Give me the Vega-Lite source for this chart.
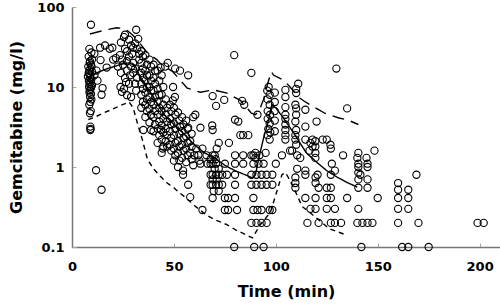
{
"$schema": "https://vega.github.io/schema/vega-lite/v6.json",
"width": 428, "height": 240,
"autosize": {"type": "none"},
"padding": {"left": 72, "top": 7, "right": 0, "bottom": 57},
"background": "white",
"config": {"view": {"stroke": null}, "font": "DejaVu Sans"},
"datasets": {
"pts": [
{"t":9.3,"c":60},{"t":8.5,"c":30},{"t":9.5,"c":27},{"t":8.2,"c":24},{"t":9.8,"c":22},{"t":8.8,"c":21},{"t":8.7,"c":20},{"t":9.3,"c":19},{"t":8,"c":18},{"t":9.6,"c":18},{"t":9,"c":17},{"t":8.5,"c":16},{"t":9.8,"c":15.5},{"t":8.2,"c":15},{"t":8.4,"c":14.5},{"t":9,"c":14},{"t":7.8,"c":13.5},{"t":8.8,"c":13},{"t":9.5,"c":12.5},{"t":8.3,"c":12},{"t":9.2,"c":11.5},{"t":8.6,"c":11},{"t":9.8,"c":10.5},{"t":8.4,"c":10},{"t":9.4,"c":10},{"t":9.1,"c":9.5},{"t":8.7,"c":9},{"t":8.6,"c":8.5},{"t":9.3,"c":8.2},{"t":8.9,"c":7.5},{"t":9.5,"c":7},{"t":9,"c":6.5},{"t":8.5,"c":6},{"t":9.2,"c":5},{"t":8.8,"c":4.7},{"t":9,"c":3.2},{"t":9.1,"c":3.0},{"t":9,"c":2.9},
{"t":11.8,"c":0.91},{"t":14.5,"c":0.52},
{"t":13.8,"c":31},{"t":16.2,"c":33},{"t":11,"c":26},{"t":14,"c":21.7},{"t":12,"c":16},{"t":15,"c":9.7},{"t":11,"c":14},{"t":12.5,"c":12},{"t":18.5,"c":30},{"t":19.8,"c":31},{"t":20.2,"c":22},{"t":17,"c":17.5},{"t":21.5,"c":23},{"t":14.5,"c":8},
{"t":24,"c":36},{"t":25.5,"c":42},{"t":26,"c":45},{"t":28,"c":39},{"t":29,"c":33},{"t":30,"c":31},{"t":31.5,"c":52},{"t":32.5,"c":40},{"t":26,"c":30},{"t":27,"c":28},{"t":23.5,"c":25},{"t":24.5,"c":22},{"t":28,"c":24},{"t":30,"c":20},{"t":25,"c":19},{"t":29,"c":18},{"t":31,"c":17},{"t":27,"c":16},{"t":24,"c":15},{"t":30,"c":15},{"t":28.5,"c":14},{"t":26,"c":13},{"t":32,"c":13},{"t":23.8,"c":10},{"t":24.5,"c":8.7},{"t":27,"c":7.9},{"t":29,"c":7.5},{"t":25.5,"c":9.5},{"t":31,"c":11},{"t":31.5,"c":9},{"t":33,"c":22},{"t":33,"c":26},{"t":22.5,"c":18},{"t":27,"c":21},{"t":29.5,"c":26},{"t":31,"c":35},{"t":32,"c":30},{"t":28,"c":11},{"t":26.5,"c":11.5},
{"t":34,"c":28},{"t":34.8,"c":24},{"t":34,"c":20},{"t":34.8,"c":17},{"t":34,"c":15},{"t":34.8,"c":13},{"t":34,"c":11},{"t":34.8,"c":9.5},{"t":34,"c":8},{"t":34.8,"c":6.5},{"t":34,"c":5.5},
{"t":36,"c":25},{"t":36.8,"c":19},{"t":36,"c":16},{"t":36.8,"c":14},{"t":36,"c":12},{"t":36.8,"c":10},{"t":36,"c":8.5},{"t":36.8,"c":7},{"t":36,"c":6},{"t":36.8,"c":5},{"t":36,"c":4.2},{"t":35,"c":2.9},
{"t":38,"c":22},{"t":38.8,"c":18},{"t":38,"c":14},{"t":38.8,"c":12},{"t":38,"c":10},{"t":38.8,"c":9},{"t":38,"c":7.5},{"t":38.8,"c":6.5},{"t":38,"c":5.3},{"t":38.8,"c":4.5},{"t":38,"c":3.6},{"t":38.8,"c":2.9},
{"t":40,"c":19},{"t":40.8,"c":16},{"t":40,"c":13},{"t":40.8,"c":11},{"t":40,"c":9},{"t":40.8,"c":7.5},{"t":40,"c":6},{"t":40.8,"c":5},{"t":40,"c":4.2},{"t":40.8,"c":3.4},{"t":40,"c":2.8},
{"t":42,"c":16},{"t":42.8,"c":12},{"t":42,"c":9.5},{"t":42.8,"c":8},{"t":42,"c":6.5},{"t":42.8,"c":5.5},{"t":42,"c":4.5},{"t":42.8,"c":3.7},{"t":42,"c":3},{"t":42.8,"c":2.5},{"t":42,"c":2},
{"t":44,"c":14},{"t":44.8,"c":10},{"t":44,"c":8},{"t":44.8,"c":6},{"t":44,"c":5},{"t":44.8,"c":4},{"t":44,"c":3.3},{"t":44.8,"c":2.7},{"t":44,"c":2.2},{"t":44.8,"c":1.8},{"t":44,"c":1.5},{"t":43.7,"c":2.9},{"t":44.5,"c":1.7},
{"t":45.7,"c":18},{"t":50.6,"c":17},{"t":43.5,"c":17.5},{"t":57,"c":14},{"t":49.6,"c":10},{"t":50.5,"c":7.5},{"t":49.5,"c":6.8},{"t":47,"c":20},{"t":53,"c":16},
{"t":46,"c":7},{"t":46.7,"c":5.5},{"t":46,"c":4.5},{"t":46.7,"c":3.7},{"t":46,"c":3},{"t":46.7,"c":2.5},{"t":46,"c":2.1},{"t":46.7,"c":1.8},
{"t":48,"c":6},{"t":48.7,"c":5},{"t":48,"c":4},{"t":48.7,"c":3.4},{"t":48,"c":2.8},{"t":48.7,"c":2.3},{"t":48,"c":1.9},{"t":48.7,"c":1.6},
{"t":50,"c":5.5},{"t":50.7,"c":4.5},{"t":50,"c":3.5},{"t":50.7,"c":3},{"t":50,"c":2.5},{"t":50.7,"c":2},{"t":50,"c":1.7},{"t":50.7,"c":1.4},{"t":50,"c":1.2},
{"t":52,"c":4.8},{"t":52.7,"c":3.8},{"t":53,"c":3.2},{"t":52.7,"c":2.6},{"t":52,"c":2.1},{"t":52.7,"c":1.8},{"t":52,"c":1.5},{"t":52.7,"c":1.2},{"t":52,"c":1.0},
{"t":54,"c":4.2},{"t":54.7,"c":3.4},{"t":54,"c":2.8},{"t":54.7,"c":2.3},{"t":54,"c":1.9},{"t":54.7,"c":1.6},{"t":54,"c":1.3},{"t":54.5,"c":0.9},{"t":54.5,"c":0.8},
{"t":56,"c":3.8},{"t":56.7,"c":3},{"t":56,"c":2.4},{"t":56.7,"c":2},{"t":56,"c":1.7},{"t":56.7,"c":1.4},{"t":56,"c":1.15},{"t":57,"c":0.6},
{"t":59.5,"c":4.2},{"t":57,"c":3.1},{"t":58.7,"c":2.6},{"t":58,"c":2.1},{"t":58.7,"c":1.8},{"t":58,"c":1.5},{"t":58.7,"c":1.25},{"t":59.5,"c":1.05},{"t":58,"c":0.42},
{"t":60.5,"c":4.5},{"t":63,"c":3.1},{"t":60,"c":1.4},{"t":61,"c":1.7},{"t":63,"c":1.1},{"t":62,"c":1.4},{"t":64,"c":1.7},{"t":62.5,"c":1.2},{"t":64,"c":0.29},{"t":66,"c":1.4},{"t":66.5,"c":1.1},
{"t":69,"c":2.9},{"t":84,"c":2.5},{"t":86.5,"c":2.5},{"t":82.6,"c":2.5},{"t":77,"c":2.0},{"t":72,"c":2.0},{"t":71,"c":1.7},
{"t":69,"c":1.4},{"t":70,"c":1.4},{"t":80,"c":1.4},{"t":84,"c":1.4},{"t":88,"c":1.4},{"t":89,"c":1.4},{"t":92,"c":1.4},
{"t":68,"c":1.1},{"t":69,"c":1.1},{"t":70.7,"c":1.1},{"t":75,"c":1.1},{"t":80,"c":1.1},{"t":84,"c":1.1},{"t":89,"c":1.1},{"t":91.5,"c":1.1},{"t":94,"c":1.1},
{"t":68,"c":0.8},{"t":69,"c":0.8},{"t":70.7,"c":0.8},{"t":72,"c":0.8},{"t":73.7,"c":0.8},{"t":76,"c":0.8},{"t":80,"c":0.8},{"t":88,"c":0.8},{"t":90.5,"c":0.8},{"t":93,"c":0.8},{"t":95.5,"c":0.8},{"t":98.3,"c":0.8},
{"t":68,"c":0.6},{"t":69,"c":0.6},{"t":70.7,"c":0.6},{"t":72,"c":0.6},{"t":73.7,"c":0.6},{"t":80,"c":0.6},{"t":88,"c":0.6},{"t":90.5,"c":0.6},{"t":93,"c":0.6},{"t":95.5,"c":0.6},{"t":98.3,"c":0.6},
{"t":69,"c":0.41},{"t":75,"c":0.41},{"t":76.6,"c":0.41},{"t":80,"c":0.41},{"t":89,"c":0.41},
{"t":75,"c":0.29},{"t":76.6,"c":0.29},{"t":81,"c":0.29},{"t":89,"c":0.29},{"t":91,"c":0.29},{"t":93,"c":0.29},{"t":97,"c":0.29},{"t":98.3,"c":0.29},
{"t":88,"c":0.2},{"t":90.5,"c":0.2},{"t":93,"c":0.2},{"t":95.5,"c":0.2},
{"t":79.6,"c":0.1},{"t":89.4,"c":0.1},{"t":94,"c":0.1},
{"t":69,"c":0.7},{"t":71,"c":0.7},{"t":70,"c":0.95},{"t":72,"c":0.95},{"t":68,"c":1.25},{"t":70.5,"c":1.25},{"t":69.5,"c":0.5},{"t":72,"c":0.5},
{"t":69,"c":7.7},{"t":70.7,"c":5.8},{"t":74.7,"c":6.9},{"t":83.5,"c":6.7},{"t":84.5,"c":6},{"t":91,"c":4.5},{"t":80,"c":3.9},{"t":81.6,"c":3.7},{"t":79.6,"c":25},{"t":88,"c":15},{"t":68.8,"c":3.3},{"t":53,"c":3.2},
{"t":96.5,"c":10},{"t":95.8,"c":9},{"t":97,"c":8},{"t":96,"c":7},{"t":97,"c":6},{"t":96,"c":5},{"t":97.2,"c":4.5},{"t":96,"c":4},{"t":97,"c":3.5},{"t":96.3,"c":3},{"t":97.3,"c":2.7},{"t":96,"c":2.5},{"t":97,"c":2.2},
{"t":99.5,"c":8.5},{"t":99.5,"c":6.5},{"t":99.5,"c":5},{"t":99.5,"c":3.8},{"t":99.5,"c":2.8},
{"t":104.7,"c":9.2},{"t":104.7,"c":7.5},{"t":104.7,"c":5.6},{"t":104.7,"c":4.5},{"t":104.7,"c":4},{"t":104.7,"c":3.4},{"t":104.7,"c":2.9},{"t":104.7,"c":2.5},{"t":104.7,"c":2.2},
{"t":103,"c":1.4},{"t":95,"c":1.5},{"t":90,"c":1.5},{"t":90,"c":1.3},{"t":108,"c":1.6},{"t":100,"c":1.1},
{"t":111,"c":11},{"t":110,"c":9.5},{"t":110,"c":8.4},{"t":109.6,"c":6},{"t":110,"c":5.4},{"t":110,"c":4.5},{"t":109.6,"c":3.7},{"t":110,"c":2.9},{"t":109.6,"c":2.5},{"t":109.6,"c":2.2},{"t":110,"c":1.9},
{"t":129.7,"c":17},{"t":135,"c":5.4},{"t":114.5,"c":5.2},{"t":114.5,"c":3.2},{"t":120,"c":3.7},{"t":119.4,"c":2.1},{"t":119.4,"c":1.8},{"t":119.4,"c":1.5},{"t":119.4,"c":1.3},{"t":125,"c":2.2},{"t":127,"c":1.7},{"t":133,"c":1.4},{"t":140,"c":1.3},{"t":148.4,"c":1.6},{"t":114.5,"c":2.2},{"t":118,"c":2.2},{"t":117,"c":2.0},{"t":118,"c":1.8},{"t":116.5,"c":1.6},{"t":123,"c":2.2},{"t":126.8,"c":1.9},{"t":129,"c":0.9},{"t":107,"c":1.6},
{"t":140.5,"c":1.5},{"t":140.5,"c":1.1},{"t":140.5,"c":1.0},{"t":140.5,"c":0.85},{"t":140.5,"c":0.7},{"t":140.5,"c":0.55},{"t":140.5,"c":0.3},
{"t":145,"c":1.1},{"t":145,"c":1.0},{"t":145,"c":0.7},{"t":145,"c":0.55},
{"t":135,"c":0.41},{"t":150,"c":0.41},{"t":160,"c":0.63},{"t":160,"c":0.52},{"t":160,"c":0.41},{"t":160,"c":0.3},{"t":160,"c":0.2},{"t":165,"c":0.52},{"t":165,"c":0.41},{"t":165,"c":0.3},{"t":169,"c":0.8},{"t":170,"c":0.2},{"t":199,"c":0.2},{"t":202,"c":0.2},{"t":162,"c":0.1},{"t":165,"c":0.1},{"t":175,"c":0.1},{"t":142,"c":0.1},
{"t":115.5,"c":0.2},{"t":121,"c":0.2},{"t":127,"c":0.2},{"t":129,"c":0.2},{"t":132,"c":0.2},{"t":140,"c":0.2},{"t":142.5,"c":0.2},{"t":145,"c":0.2},{"t":147.4,"c":0.2},
{"t":117,"c":0.3},{"t":119.5,"c":0.3},{"t":125,"c":0.3},{"t":129,"c":0.3},
{"t":114.5,"c":0.41},{"t":119.5,"c":0.41},{"t":125,"c":0.41},{"t":127,"c":0.41},
{"t":109.6,"c":0.74},{"t":109.6,"c":0.63},{"t":109.6,"c":0.55},{"t":114.5,"c":0.9},{"t":114.5,"c":0.8},{"t":119.5,"c":0.74},{"t":119.5,"c":0.63},{"t":121,"c":0.55},{"t":125,"c":0.55},{"t":127,"c":0.55},{"t":110.5,"c":0.95},
{"t":120.5,"c":0.8},{"t":127,"c":0.8},{"t":141.5,"c":0.8},{"t":127.5,"c":1.1},{"t":144.5,"c":1.3},{"t":110.5,"c":1.4},{"t":112,"c":1.3}
],
"lines": [
{"s":"median","t":8,"c":13},{"s":"median","t":12,"c":15},{"s":"median","t":16,"c":16.5},{"s":"median","t":20,"c":17.8},{"s":"median","t":25,"c":19.5},{"s":"median","t":28,"c":20},{"s":"median","t":31,"c":18.5},{"s":"median","t":33,"c":14},{"s":"median","t":35,"c":11.5},{"s":"median","t":38,"c":9},{"s":"median","t":40,"c":7.5},{"s":"median","t":43,"c":5.5},{"s":"median","t":46,"c":4.3},{"s":"median","t":50,"c":3.4},{"s":"median","t":55.5,"c":2.5},{"s":"median","t":60,"c":1.9},{"s":"median","t":65,"c":1.5},{"s":"median","t":70,"c":1.3},{"s":"median","t":75,"c":1.05},{"s":"median","t":80,"c":0.9},{"s":"median","t":85,"c":0.8},{"s":"median","t":88.5,"c":0.73},{"s":"median","t":90,"c":0.8},{"s":"median","t":92,"c":1.4},{"s":"median","t":94,"c":2.3},{"s":"median","t":96,"c":3.5},{"s":"median","t":98,"c":6},{"s":"median","t":100,"c":5.5},{"s":"median","t":104,"c":4},{"s":"median","t":108.6,"c":2.7},{"s":"median","t":115,"c":1.5},{"s":"median","t":120,"c":1.15},{"s":"median","t":125,"c":0.9},{"s":"median","t":130,"c":0.75},{"s":"median","t":135,"c":0.64},{"s":"median","t":140,"c":0.56},
{"s":"upper","t":8.8,"c":46},{"s":"upper","t":13,"c":49},{"s":"upper","t":17,"c":52},{"s":"upper","t":22,"c":55},{"s":"upper","t":25,"c":54},{"s":"upper","t":27.5,"c":50},{"s":"upper","t":30,"c":44},{"s":"upper","t":33,"c":36},{"s":"upper","t":36.8,"c":27},{"s":"upper","t":41.6,"c":22},{"s":"upper","t":43,"c":20},{"s":"upper","t":49.6,"c":15.4},{"s":"upper","t":56.5,"c":9.7},{"s":"upper","t":63,"c":8.6},{"s":"upper","t":69.3,"c":9.2},{"s":"upper","t":76,"c":8.4},{"s":"upper","t":82.6,"c":6.8},{"s":"upper","t":85,"c":5.8},{"s":"upper","t":88,"c":4.7},{"s":"upper","t":90,"c":4.5},{"s":"upper","t":92,"c":5.2},{"s":"upper","t":94,"c":7},{"s":"upper","t":96,"c":11},{"s":"upper","t":97.8,"c":15.5},{"s":"upper","t":99,"c":14},{"s":"upper","t":103.7,"c":12.2},{"s":"upper","t":107,"c":10},{"s":"upper","t":111,"c":7.5},{"s":"upper","t":114.5,"c":6.5},{"s":"upper","t":121,"c":5.2},{"s":"upper","t":124,"c":4.7},{"s":"upper","t":131,"c":4.1},{"s":"upper","t":135,"c":3.9},{"s":"upper","t":140.5,"c":3.4},
{"s":"lower","t":8,"c":3.9},{"s":"lower","t":12,"c":4.3},{"s":"lower","t":16,"c":4.8},{"s":"lower","t":20,"c":5.3},{"s":"lower","t":24,"c":5.9},{"s":"lower","t":28,"c":6.5},{"s":"lower","t":30,"c":5.5},{"s":"lower","t":32,"c":3.6},{"s":"lower","t":34.5,"c":2.2},{"s":"lower","t":37,"c":1.25},{"s":"lower","t":40,"c":0.95},{"s":"lower","t":43,"c":0.78},{"s":"lower","t":46.7,"c":0.63},{"s":"lower","t":50,"c":0.55},{"s":"lower","t":53,"c":0.47},{"s":"lower","t":55.5,"c":0.42},{"s":"lower","t":60,"c":0.33},{"s":"lower","t":66,"c":0.25},{"s":"lower","t":70,"c":0.22},{"s":"lower","t":76,"c":0.19},{"s":"lower","t":81,"c":0.16},{"s":"lower","t":86,"c":0.14},{"s":"lower","t":88.5,"c":0.13},{"s":"lower","t":90,"c":0.15},{"s":"lower","t":92.4,"c":0.19},{"s":"lower","t":97.3,"c":0.27},{"s":"lower","t":100,"c":0.45},{"s":"lower","t":103,"c":0.8},{"s":"lower","t":104.7,"c":0.85},{"s":"lower","t":106,"c":0.75},{"s":"lower","t":108.6,"c":0.56},{"s":"lower","t":113,"c":0.32},{"s":"lower","t":121,"c":0.22},{"s":"lower","t":126,"c":0.17},{"s":"lower","t":135,"c":0.14}
]
},
"layer": [
{
"data": {"name": "pts"},
"mark": {"type": "point", "shape": "circle", "filled": false, "color": "black", "size": 52, "strokeWidth": 1.1, "opacity": 1},
"encoding": {
"x": {"field": "t", "type": "quantitative", "scale": {"domain": [0, 210], "nice": false},
"axis": {"values": [0, 50, 100, 150, 200], "title": "Time (min)", "grid": false, "titleFont": "DejaVu Sans", "titleFontSize": 16, "titleFontWeight": "bold", "titleColor": "black", "labelFont": "DejaVu Sans", "labelFontSize": 13, "labelFontWeight": "bold", "labelColor": "black", "domainColor": "#777", "domainWidth": 1.5, "tickColor": "#aaa", "tickSize": -4, "labelPadding": 17, "titlePadding": 10, "labelFlush": false}},
"y": {"field": "c", "type": "quantitative", "scale": {"type": "log", "domain": [0.1, 100], "nice": false},
"axis": {"values": [0.1, 1, 10, 100], "format": "~g", "title": "Gemcitabine (mg/l)", "grid": false, "titleFont": "DejaVu Sans", "titleFontSize": 16, "titleFontWeight": "bold", "titleColor": "black", "labelFont": "DejaVu Sans", "labelFontSize": 13, "labelFontWeight": "bold", "labelColor": "black", "domainColor": "#777", "domainWidth": 1.5, "tickColor": "#aaa", "tickSize": -4, "labelPadding": 12, "titlePadding": 12, "labelFlush": false}}
}
},
{
"data": {"name": "lines"},
"mark": {"type": "line", "color": "black", "strokeWidth": 1.4},
"encoding": {
"x": {"field": "t", "type": "quantitative"},
"y": {"field": "c", "type": "quantitative"},
"strokeDash": {"field": "s", "type": "nominal", "scale": {"domain": ["median", "upper", "lower"], "range": [[1, 0], [12, 7], [5, 4]]}, "legend": null}
}
}
]
}
